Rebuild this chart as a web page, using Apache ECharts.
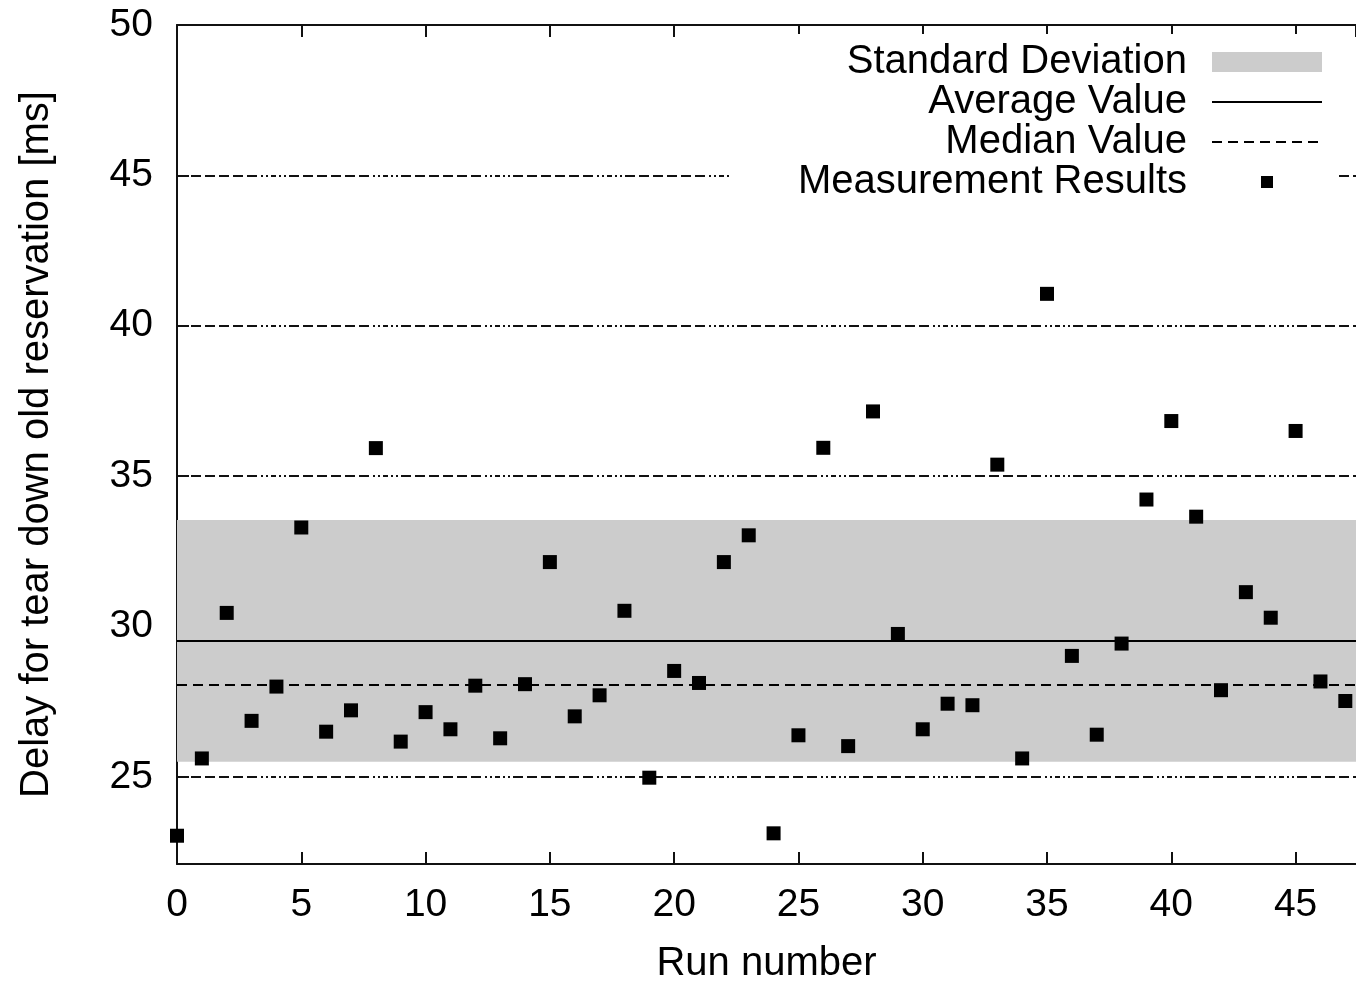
<!DOCTYPE html>
<html>
<head>
<meta charset="utf-8">
<script src="https://cdn.jsdelivr.net/npm/echarts@6/dist/echarts.min.js"></script>
<style>
  html, body { margin: 0; padding: 0; background: #fff; }
  #chart { width: 1356px; height: 989px; }
</style>
</head>
<body>
<div id="chart"></div>
<script>
// run numbers and measured delays (ms)
const runs = [0, 1, 2, 3, 4, 5, 6, 7, 8, 9, 10, 11, 12, 13, 14, 15, 16, 17, 18, 19,
  20, 21, 22, 23, 24, 25, 26, 27, 28, 29, 30, 31, 32, 33, 34, 35, 36, 37, 38, 39,
  40, 41, 42, 43, 44, 45, 46, 47];
const delays = [23.04, 25.61, 30.45, 26.86, 28.0, 33.29, 26.5, 27.21, 35.93, 26.17,
  27.15, 26.58, 28.03, 26.28, 28.08, 32.14, 27.01, 27.71, 30.52, 24.97,
  28.52, 28.12, 32.14, 33.03, 23.12, 26.38, 35.94, 26.02, 37.15, 29.75,
  26.58, 27.43, 27.38, 35.38, 25.61, 41.06, 29.02, 26.4, 29.43, 34.22,
  36.83, 33.65, 27.88, 31.14, 30.29, 36.5, 28.17, 27.52];
const average = 29.52;
const median = 28.07;
const stdDev = 4.02;
const xTicks = [0, 5, 10, 15, 20, 25, 30, 35, 40, 45];
const yTicks = [25, 30, 35, 40, 45, 50];

const font = 'Liberation Sans';
const gridDash = [10, 4, 10, 4, 10, 4, 10, 4, 10, 4, 10, 4, 2, 3, 2, 3, 5, 3, 2, 3, 2, 3];

const chart = echarts.init(document.getElementById('chart'));
const option = {
  animation: false,
  backgroundColor: '#fff',
  grid: { left: 177, right: 0, top: 25, bottom: 123 },
  legend: {
    orient: 'vertical',
    align: 'right',
    right: 18,
    top: 34,
    itemWidth: 110,
    itemHeight: 20,
    itemGap: 0,
    backgroundColor: '#fff',
    padding: [8, 15, 8, 67],
    selectedMode: false,
    textStyle: { fontSize: 40, fontFamily: font, color: '#000', padding: [0, 20, 0, 0] },
    data: [
      { name: 'Standard Deviation', icon: 'rect', itemStyle: { color: '#cccccc', borderWidth: 0 } },
      { name: 'Average Value', itemStyle: { opacity: 0 } },
      { name: 'Median Value', itemStyle: { opacity: 0 } },
      { name: 'Measurement Results', icon: 'path://M0,0M20,20M4,4L16,4L16,16L4,16Z', itemStyle: { color: '#000', borderWidth: 0, opacity: 1 } }
    ]
  },
  xAxis: [
    {
      type: 'value',
      min: xTicks[0],
      max: 47.43,
      interval: 5,
      name: 'Run number',
      nameLocation: 'middle',
      nameGap: 80,
      nameTextStyle: { fontSize: 40, fontFamily: font, color: '#000' },
      axisLine: { lineStyle: { color: '#111', width: 2 } },
      axisTick: { inside: true, length: 12, lineStyle: { color: '#111', width: 2 } },
      axisLabel: { fontSize: 39, fontFamily: font, color: '#000', margin: 22, showMaxLabel: false },
      splitLine: { show: false }
    },
    {
      type: 'value',
      position: 'top',
      min: xTicks[0],
      max: 47.43,
      interval: 5,
      axisLine: { lineStyle: { color: '#111', width: 2 } },
      axisTick: { inside: true, length: 12, lineStyle: { color: '#111', width: 2 } },
      axisLabel: { show: false },
      splitLine: { show: false }
    }
  ],
  yAxis: {
    type: 'value',
    min: 22.1,
    max: yTicks[yTicks.length - 1],
    splitNumber: 5,
    name: 'Delay for tear down old reservation [ms]',
    nameLocation: 'middle',
    nameGap: 120,
    nameTextStyle: { fontSize: 40, fontFamily: font, color: '#000' },
    axisLine: { show: true, lineStyle: { color: '#111', width: 2 } },
    axisTick: { show: true, inside: true, length: 12, lineStyle: { color: '#111', width: 2 } },
    axisLabel: { fontSize: 39, fontFamily: font, color: '#000', margin: 24, showMinLabel: false },
    splitLine: {
      show: true,
      showMinLine: false,
      showMaxLine: false,
      lineStyle: { color: '#111', width: 2, type: gridDash }
    }
  },
  series: [
    {
      name: 'Standard Deviation',
      type: 'line',
      z: -1,
      data: [],
      color: '#cccccc',
      markArea: {
        silent: true,
        itemStyle: { color: '#cccccc' },
        data: [[{ yAxis: average - stdDev }, { yAxis: average + stdDev }]]
      }
    },
    {
      name: 'Average Value',
      type: 'line',
      data: [],
      color: '#000',
      symbol: 'none',
      lineStyle: { color: '#000', width: 2, type: 'solid' },
      markLine: {
        silent: true,
        symbol: ['none', 'none'],
        label: { show: false },
        lineStyle: { color: '#000', width: 2, type: 'solid' },
        data: [{ yAxis: average }]
      }
    },
    {
      name: 'Median Value',
      type: 'line',
      data: [],
      color: '#000',
      symbol: 'none',
      lineStyle: { color: '#000', width: 2, type: [10, 6] },
      markLine: {
        silent: true,
        symbol: ['none', 'none'],
        label: { show: false },
        lineStyle: { color: '#000', width: 2, type: [10, 6] },
        data: [{ yAxis: median }]
      }
    },
    {
      name: 'Measurement Results',
      type: 'scatter',
      z: 3,
      symbol: 'rect',
      symbolSize: 14,
      itemStyle: { color: '#000', opacity: 1 },
      data: runs.map((r, i) => [r, delays[i]])
    }
  ]
};
chart.setOption(option);
</script>
</body>
</html>
